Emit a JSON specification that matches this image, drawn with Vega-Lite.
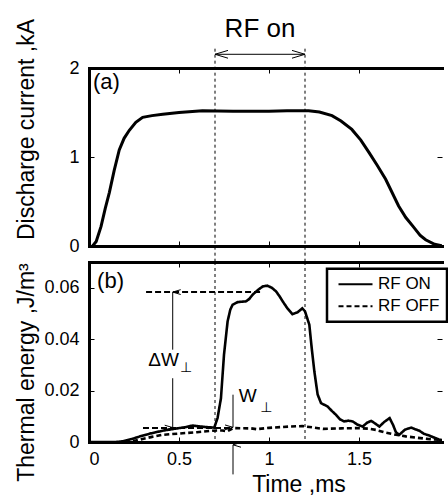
{
  "$schema": "https://vega.github.io/schema/vega-lite/v6.json",
  "background": "white",
  "padding": {"left": 15, "top": 16, "right": 0, "bottom": 2},
  "spacing": 16,
  "bounds": "flush",
  "config": {
    "font": "Liberation Sans",
    "view": {"stroke": null},
    "axis": {
      "domain": true, "domainColor": "black", "domainWidth": 3, "domainCap": "square",
      "grid": false, "ticks": true,
      "tickColor": "black", "tickSize": -5, "tickWidth": 1,
      "labelColor": "black", "labelFontSize": 18, "labelPadding": 15, "labelFont": "Liberation Sans",
      "titleColor": "black", "titleFontSize": 23, "titleFontWeight": "normal", "titleFont": "Liberation Sans"
    },
    "text": {"font": "Liberation Sans", "color": "black"}
  },
  "datasets": {
    "current": [
      {"t": 0.02, "I": 0}, {"t": 0.04, "I": 0.05}, {"t": 0.067, "I": 0.22}, {"t": 0.09, "I": 0.42},
      {"t": 0.113, "I": 0.6}, {"t": 0.14, "I": 0.85}, {"t": 0.168, "I": 1.08}, {"t": 0.195, "I": 1.21},
      {"t": 0.224, "I": 1.3}, {"t": 0.26, "I": 1.39}, {"t": 0.298, "I": 1.445}, {"t": 0.35, "I": 1.465},
      {"t": 0.41, "I": 1.48}, {"t": 0.5, "I": 1.5}, {"t": 0.63, "I": 1.52}, {"t": 0.8, "I": 1.515},
      {"t": 1.0, "I": 1.515}, {"t": 1.1, "I": 1.52}, {"t": 1.22, "I": 1.52}, {"t": 1.28, "I": 1.505},
      {"t": 1.35, "I": 1.465}, {"t": 1.4, "I": 1.405}, {"t": 1.46, "I": 1.31}, {"t": 1.51, "I": 1.19},
      {"t": 1.556, "I": 1.05}, {"t": 1.6, "I": 0.91}, {"t": 1.648, "I": 0.75}, {"t": 1.72, "I": 0.45},
      {"t": 1.76, "I": 0.32}, {"t": 1.8, "I": 0.22}, {"t": 1.84, "I": 0.12}, {"t": 1.87, "I": 0.07},
      {"t": 1.92, "I": 0.02}, {"t": 1.97, "I": 0.0}
    ],
    "energy": [
      {"t": 0.0, "E": 0, "series": "RF ON"}, {"t": 0.15, "E": 0, "series": "RF ON"},
      {"t": 0.19, "E": 0.0003, "series": "RF ON"}, {"t": 0.24, "E": 0.0012, "series": "RF ON"},
      {"t": 0.28, "E": 0.0021, "series": "RF ON"}, {"t": 0.34, "E": 0.0033, "series": "RF ON"},
      {"t": 0.41, "E": 0.0044, "series": "RF ON"}, {"t": 0.48, "E": 0.0052, "series": "RF ON"},
      {"t": 0.53, "E": 0.0057, "series": "RF ON"}, {"t": 0.576, "E": 0.0064, "series": "RF ON"},
      {"t": 0.61, "E": 0.0061, "series": "RF ON"}, {"t": 0.65, "E": 0.0058, "series": "RF ON"},
      {"t": 0.696, "E": 0.0056, "series": "RF ON"}, {"t": 0.714, "E": 0.0093, "series": "RF ON"},
      {"t": 0.733, "E": 0.017, "series": "RF ON"}, {"t": 0.75, "E": 0.034, "series": "RF ON"},
      {"t": 0.77, "E": 0.0469, "series": "RF ON"}, {"t": 0.785, "E": 0.0515, "series": "RF ON"},
      {"t": 0.798, "E": 0.0534, "series": "RF ON"}, {"t": 0.826, "E": 0.0544, "series": "RF ON"},
      {"t": 0.872, "E": 0.0547, "series": "RF ON"}, {"t": 0.89, "E": 0.0556, "series": "RF ON"},
      {"t": 0.909, "E": 0.0573, "series": "RF ON"}, {"t": 0.94, "E": 0.0592, "series": "RF ON"},
      {"t": 0.965, "E": 0.0605, "series": "RF ON"}, {"t": 0.99, "E": 0.0608, "series": "RF ON"},
      {"t": 1.015, "E": 0.06, "series": "RF ON"}, {"t": 1.039, "E": 0.0586, "series": "RF ON"},
      {"t": 1.06, "E": 0.0565, "series": "RF ON"}, {"t": 1.076, "E": 0.0547, "series": "RF ON"},
      {"t": 1.1, "E": 0.0522, "series": "RF ON"}, {"t": 1.13, "E": 0.0497, "series": "RF ON"},
      {"t": 1.16, "E": 0.0505, "series": "RF ON"}, {"t": 1.185, "E": 0.052, "series": "RF ON"},
      {"t": 1.2, "E": 0.0508, "series": "RF ON"}, {"t": 1.224, "E": 0.0456, "series": "RF ON"},
      {"t": 1.238, "E": 0.036, "series": "RF ON"}, {"t": 1.252, "E": 0.0274, "series": "RF ON"},
      {"t": 1.27, "E": 0.0185, "series": "RF ON"}, {"t": 1.289, "E": 0.0151, "series": "RF ON"},
      {"t": 1.326, "E": 0.0138, "series": "RF ON"}, {"t": 1.35, "E": 0.012, "series": "RF ON"},
      {"t": 1.372, "E": 0.0106, "series": "RF ON"}, {"t": 1.395, "E": 0.0088, "series": "RF ON"},
      {"t": 1.418, "E": 0.008, "series": "RF ON"}, {"t": 1.44, "E": 0.0083, "series": "RF ON"},
      {"t": 1.465, "E": 0.008, "series": "RF ON"}, {"t": 1.49, "E": 0.0068, "series": "RF ON"},
      {"t": 1.52, "E": 0.006, "series": "RF ON"}, {"t": 1.545, "E": 0.0075, "series": "RF ON"},
      {"t": 1.567, "E": 0.0082, "series": "RF ON"}, {"t": 1.59, "E": 0.0072, "series": "RF ON"},
      {"t": 1.613, "E": 0.006, "series": "RF ON"}, {"t": 1.64, "E": 0.0078, "series": "RF ON"},
      {"t": 1.67, "E": 0.0093, "series": "RF ON"}, {"t": 1.69, "E": 0.0065, "series": "RF ON"},
      {"t": 1.705, "E": 0.0038, "series": "RF ON"}, {"t": 1.724, "E": 0.0028, "series": "RF ON"},
      {"t": 1.755, "E": 0.0048, "series": "RF ON"}, {"t": 1.79, "E": 0.0056, "series": "RF ON"},
      {"t": 1.81, "E": 0.005, "series": "RF ON"}, {"t": 1.835, "E": 0.0044, "series": "RF ON"},
      {"t": 1.86, "E": 0.0032, "series": "RF ON"}, {"t": 1.89, "E": 0.0025, "series": "RF ON"},
      {"t": 1.946, "E": 0.0009, "series": "RF ON"}, {"t": 2.0, "E": 0.0003, "series": "RF ON"},
      {"t": 0.2, "E": 0, "series": "RF OFF"}, {"t": 0.25, "E": 0.0004, "series": "RF OFF"},
      {"t": 0.298, "E": 0.0012, "series": "RF OFF"}, {"t": 0.35, "E": 0.002, "series": "RF OFF"},
      {"t": 0.41, "E": 0.0028, "series": "RF OFF"}, {"t": 0.52, "E": 0.0034, "series": "RF OFF"},
      {"t": 0.6, "E": 0.0038, "series": "RF OFF"}, {"t": 0.687, "E": 0.0044, "series": "RF OFF"},
      {"t": 0.74, "E": 0.0045, "series": "RF OFF"}, {"t": 0.77, "E": 0.0042, "series": "RF OFF"},
      {"t": 0.8, "E": 0.0054, "series": "RF OFF"}, {"t": 0.9, "E": 0.0053, "series": "RF OFF"},
      {"t": 0.93, "E": 0.005, "series": "RF OFF"}, {"t": 1.0, "E": 0.0055, "series": "RF OFF"},
      {"t": 1.11, "E": 0.006, "series": "RF OFF"}, {"t": 1.185, "E": 0.0062, "series": "RF OFF"},
      {"t": 1.25, "E": 0.0056, "series": "RF OFF"}, {"t": 1.3, "E": 0.0051, "series": "RF OFF"},
      {"t": 1.4, "E": 0.0053, "series": "RF OFF"}, {"t": 1.483, "E": 0.0054, "series": "RF OFF"},
      {"t": 1.55, "E": 0.0052, "series": "RF OFF"}, {"t": 1.594, "E": 0.0047, "series": "RF OFF"},
      {"t": 1.65, "E": 0.0036, "series": "RF OFF"}, {"t": 1.706, "E": 0.0028, "series": "RF OFF"},
      {"t": 1.76, "E": 0.0022, "series": "RF OFF"}, {"t": 1.817, "E": 0.0017, "series": "RF OFF"},
      {"t": 1.88, "E": 0.0012, "series": "RF OFF"}, {"t": 1.94, "E": 0.0009, "series": "RF OFF"},
      {"t": 2.0, "E": 0.0005, "series": "RF OFF"}
    ],
    "rfLines": [{"t": 0.7, "top": 2.217, "bottom": -0.19}, {"t": 1.2, "top": 2.217, "bottom": -0.19}],
    "rfArrow": [{"t0": 0.7, "t1": 1.2, "level": 2.154}],
    "rfHeads": [{"t": 0.7, "level": 2.154, "dir": "left"}, {"t": 1.2, "level": 2.154, "dir": "right"}],
    "rfText": [{"t": 0.95, "level": 2.348, "label": "RF on"}],
    "panelA": [{"t": 0.022, "level": 1.76, "label": "(a)"}],
    "panelB": [{"t": 0.045, "E": 0.0599, "label": "(b)"}],
    "bLines": [{"t": 0.7}, {"t": 1.2}],
    "hDash": [{"t0": 0.317, "t1": 0.965, "E": 0.0583}, {"t0": 0.3, "t1": 0.8, "E": 0.0054}],
    "arrows": [
      {"t": 0.465, "e0": 0.0359, "e1": 0.0583},
      {"t": 0.465, "e0": 0.0056, "e1": 0.0248},
      {"t": 0.8, "e0": 0.0057, "e1": 0.0184},
      {"t": 0.8, "e0": -0.0126, "e1": -0.0011}
    ],
    "heads": [
      {"t": 0.465, "E": 0.0583, "dir": "up"},
      {"t": 0.465, "E": 0.0056, "dir": "down"},
      {"t": 0.8, "E": 0.0057, "dir": "down"},
      {"t": 0.8, "E": -0.0011, "dir": "up"}
    ],
    "mainText": [{"t": 0.414, "E": 0.0319, "label": "ΔW"}, {"t": 0.882, "E": 0.0177, "label": "W"}],
    "subText": [{"t": 0.54, "E": 0.0287, "label": "⊥"}, {"t": 0.985, "E": 0.0134, "label": "⊥"}]
  },
  "resolve": {"legend": {"strokeDash": "independent"}},
  "vconcat": [
    {
      "width": 353, "height": 178,
      "resolve": {"axis": {"x": "independent", "y": "independent"}},
      "layer": [
        {
          "data": {"name": "current"},
          "mark": {"type": "line", "color": "black", "strokeWidth": 3, "clip": true},
          "encoding": {
            "x": {"field": "t", "type": "quantitative", "scale": {"domain": [0, 1.961], "nice": false},
                  "axis": {"orient": "bottom", "values": [0, 0.5, 1, 1.5], "labels": false, "title": null}},
            "y": {"field": "I", "type": "quantitative", "scale": {"domain": [0, 2], "nice": false},
                  "axis": {"orient": "left", "values": [0, 1, 2], "format": "~g", "title": "Discharge current ,kA",
                           "titleX": -55.5, "titleY": 61, "titleBaseline": "alphabetic"}}
          }
        },
        {
          "data": {"name": "rfLines"},
          "mark": {"type": "rule", "color": "black", "strokeWidth": 1, "strokeDash": [3, 3], "clip": false},
          "encoding": {
            "x": {"field": "t", "type": "quantitative", "scale": {"domain": [0, 1.961], "nice": false},
                  "axis": {"orient": "top", "values": [0, 0.5, 1, 1.5], "labels": false, "title": null}},
            "y": {"field": "top", "type": "quantitative", "scale": {"domain": [0, 2], "nice": false},
                  "axis": {"orient": "right", "values": [0, 1, 2], "labels": false, "title": null, "domain": false}},
            "y2": {"field": "bottom"}
          }
        },
        {
          "data": {"name": "rfArrow"},
          "mark": {"type": "rule", "color": "black", "strokeWidth": 1, "clip": false},
          "encoding": {
            "x": {"field": "t0", "type": "quantitative", "axis": null, "scale": {"domain": [0, 1.961], "nice": false}},
            "x2": {"field": "t1"},
            "y": {"field": "level", "type": "quantitative", "axis": null, "scale": {"domain": [0, 2], "nice": false}}
          }
        },
        {
          "data": {"name": "rfHeads"},
          "mark": {"type": "point", "filled": false, "color": "black", "strokeWidth": 1, "opacity": 1, "size": 676, "clip": false},
          "encoding": {
            "x": {"field": "t", "type": "quantitative", "axis": null, "scale": {"domain": [0, 1.961], "nice": false}},
            "y": {"field": "level", "type": "quantitative", "axis": null, "scale": {"domain": [0, 2], "nice": false}},
            "shape": {"field": "dir", "type": "nominal", "legend": null,
                      "scale": {"domain": ["left", "right"], "range": ["M1,-0.3L0,0L1,0.3", "M-1,-0.3L0,0L-1,0.3"]}}
          }
        },
        {
          "data": {"name": "rfText"},
          "mark": {"type": "text", "fontSize": 26, "align": "center", "baseline": "alphabetic", "color": "black"},
          "encoding": {
            "x": {"field": "t", "type": "quantitative", "axis": null, "scale": {"domain": [0, 1.961], "nice": false}},
            "y": {"field": "level", "type": "quantitative", "axis": null, "scale": {"domain": [0, 2], "nice": false}},
            "text": {"field": "label"}
          }
        },
        {
          "data": {"name": "panelA"},
          "mark": {"type": "text", "fontSize": 22, "align": "left", "baseline": "alphabetic", "color": "black"},
          "encoding": {
            "x": {"field": "t", "type": "quantitative", "axis": null, "scale": {"domain": [0, 1.961], "nice": false}},
            "y": {"field": "level", "type": "quantitative", "axis": null, "scale": {"domain": [0, 2], "nice": false}},
            "text": {"field": "label"}
          }
        }
      ]
    },
    {
      "width": 353, "height": 180,
      "resolve": {"axis": {"x": "independent", "y": "independent"}},
      "layer": [
        {
          "data": {"name": "energy"},
          "mark": {"type": "line", "color": "black", "strokeWidth": 2.6, "clip": true},
          "encoding": {
            "x": {"field": "t", "type": "quantitative", "scale": {"domain": [0, 1.961], "nice": false},
                  "axis": {"orient": "bottom", "values": [0, 0.5, 1, 1.5], "format": "~g", "labelPadding": 13,
                           "title": "Time ,ms", "titleX": 209.5, "titleY": 49, "titleBaseline": "alphabetic"}},
            "y": {"field": "E", "type": "quantitative", "scale": {"domain": [0, 0.07], "nice": false},
                  "axis": {"orient": "left", "values": [0, 0.02, 0.04, 0.06], "format": "~g", "title": "Thermal energy ,J/m³",
                           "titleX": -55.5, "titleY": 110, "titleBaseline": "alphabetic"}},
            "strokeDash": {"field": "series", "type": "nominal",
                           "scale": {"domain": ["RF ON", "RF OFF"], "range": [[1, 0], [5, 3]]},
                           "legend": {"title": null, "orient": "none", "legendX": 238, "legendY": 6.7,
                                      "strokeColor": "black", "fillColor": "white", "padding": 7,
                                      "labelFontSize": 17, "labelColor": "black", "labelFont": "Liberation Sans",
                                      "symbolType": "M-1,0L7.5,0", "symbolSize": 64, "symbolStrokeWidth": 2,
                                      "symbolStrokeColor": "black", "labelOffset": 27, "rowPadding": 4,
                                      "encode": {"legend": {"update": {"strokeWidth": {"value": 2.5}}}}}},
            "detail": {"field": "series"}
          }
        },
        {
          "data": {"name": "bLines"},
          "mark": {"type": "rule", "color": "black", "strokeWidth": 1, "strokeDash": [3, 3]},
          "encoding": {
            "x": {"field": "t", "type": "quantitative", "scale": {"domain": [0, 1.961], "nice": false},
                  "axis": {"orient": "top", "values": [0, 0.5, 1, 1.5], "labels": false, "title": null}}
          }
        },
        {
          "data": {"name": "hDash"},
          "mark": {"type": "rule", "color": "black", "strokeWidth": 2, "strokeDash": [6, 3]},
          "encoding": {
            "x": {"field": "t0", "type": "quantitative", "axis": null, "scale": {"domain": [0, 1.961], "nice": false}},
            "x2": {"field": "t1"},
            "y": {"field": "E", "type": "quantitative", "scale": {"domain": [0, 0.07], "nice": false},
                  "axis": {"orient": "right", "values": [0, 0.02, 0.04, 0.06], "labels": false, "title": null, "domain": false}}
          }
        },
        {
          "data": {"name": "arrows"},
          "mark": {"type": "rule", "color": "black", "strokeWidth": 1, "clip": false},
          "encoding": {
            "x": {"field": "t", "type": "quantitative", "axis": null, "scale": {"domain": [0, 1.961], "nice": false}},
            "y": {"field": "e0", "type": "quantitative", "axis": null, "scale": {"domain": [0, 0.07], "nice": false}},
            "y2": {"field": "e1"}
          }
        },
        {
          "data": {"name": "heads"},
          "mark": {"type": "point", "filled": false, "color": "black", "strokeWidth": 1, "opacity": 1, "size": 256, "clip": false},
          "encoding": {
            "x": {"field": "t", "type": "quantitative", "axis": null, "scale": {"domain": [0, 1.961], "nice": false}},
            "y": {"field": "E", "type": "quantitative", "axis": null, "scale": {"domain": [0, 0.07], "nice": false}},
            "shape": {"field": "dir", "type": "nominal", "legend": null,
                      "scale": {"domain": ["up", "down"], "range": ["M-0.44,1L0,0L0.44,1", "M-0.44,-1L0,0L0.44,-1"]}}
          }
        },
        {
          "data": {"name": "mainText"},
          "mark": {"type": "text", "fontSize": 19, "align": "center", "baseline": "middle", "color": "black"},
          "encoding": {
            "x": {"field": "t", "type": "quantitative", "axis": null, "scale": {"domain": [0, 1.961], "nice": false}},
            "y": {"field": "E", "type": "quantitative", "axis": null, "scale": {"domain": [0, 0.07], "nice": false}},
            "text": {"field": "label"}
          }
        },
        {
          "data": {"name": "subText"},
          "mark": {"type": "text", "fontSize": 14, "font": "DejaVu Sans", "align": "center", "baseline": "middle", "color": "black"},
          "encoding": {
            "x": {"field": "t", "type": "quantitative", "axis": null, "scale": {"domain": [0, 1.961], "nice": false}},
            "y": {"field": "E", "type": "quantitative", "axis": null, "scale": {"domain": [0, 0.07], "nice": false}},
            "text": {"field": "label"}
          }
        },
        {
          "data": {"name": "panelB"},
          "mark": {"type": "text", "fontSize": 22, "align": "left", "baseline": "alphabetic", "color": "black"},
          "encoding": {
            "x": {"field": "t", "type": "quantitative", "axis": null, "scale": {"domain": [0, 1.961], "nice": false}},
            "y": {"field": "E", "type": "quantitative", "axis": null, "scale": {"domain": [0, 0.07], "nice": false}},
            "text": {"field": "label"}
          }
        }
      ]
    }
  ]
}
